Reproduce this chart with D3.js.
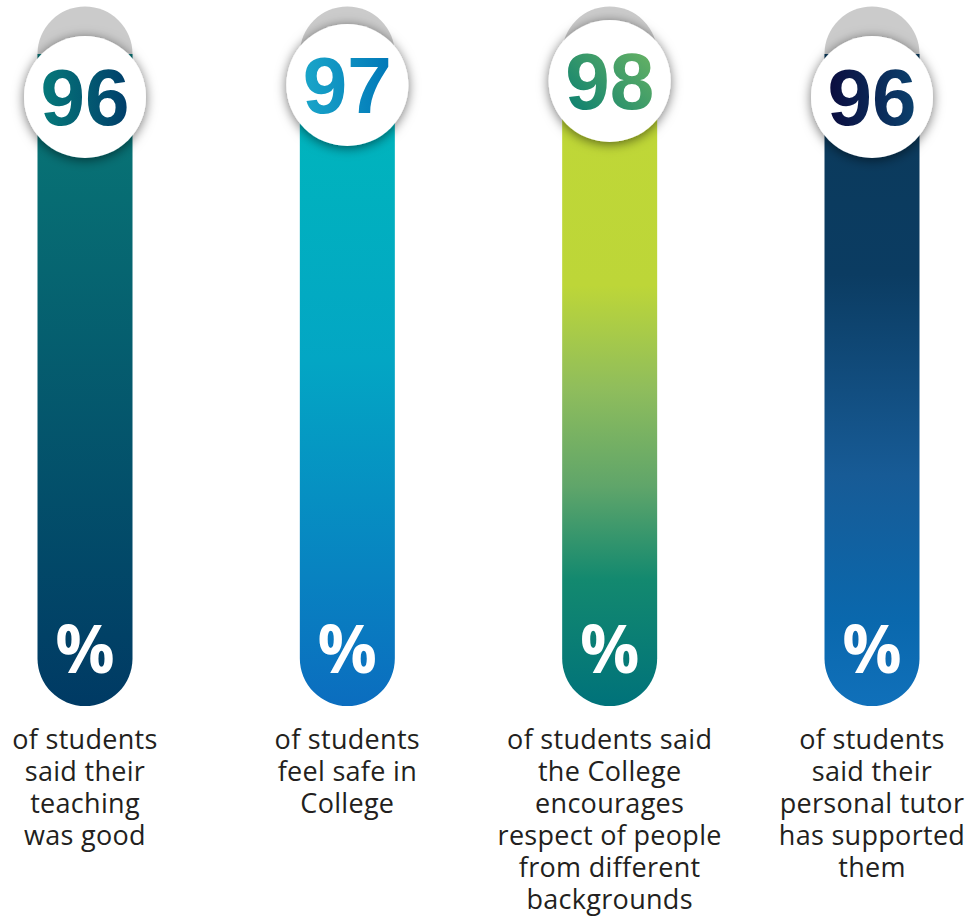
<!DOCTYPE html>
<html>
<head>
<meta charset="utf-8">
<script src="https://cdn.jsdelivr.net/npm/d3@7"></script>
<style>
  body { margin: 0; background: #ffffff; }
  svg { display: block; }
</style>
</head>
<body>
<div id="vis"></div>
<script>
const FRAME_WIDTH = 971;
const FRAME_HEIGHT = 917;

// data
const categories = ["teaching", "safe", "respect", "tutor"];
const values = [96, 97, 98, 96];
const labels = [
    ["of students", "said their", "teaching", "was good"],
    ["of students", "feel safe in", "College"],
    ["of students said", "the College", "encourages", "respect of people", "from different", "backgrounds"],
    ["of students", "said their", "personal tutor", "has supported", "them"]
];

// colours for bars (top -> bottom) and numbers
const barStops = [
    [[0, "#087375"], [1, "#003a64"]],
    [[0, "#00b4bd"], [0.4, "#03a6c4"], [1, "#0b6dbf"]],
    [[0, "#bfd737"], [0.27, "#bdd638"], [0.45, "#8fbd5c"], [0.62, "#5fa56a"], [0.78, "#13896f"], [1, "#00727a"]],
    [[0, "#0b3a5c"], [0.25, "#0b3c62"], [0.6, "#175b96"], [0.85, "#0a68ad"], [1, "#1070ba"]]
];
const numStops = [
    [["0%", "#067a7a"], ["100%", "#003d6a"]],
    [["0%", "#1aa6c9"], ["100%", "#0077b8"]],
    [["0%", "#007a72"], ["100%", "#72b862"]],
    [["0%", "#0b0c3e"], ["100%", "#0b416d"]]
];

const BAR_WIDTH = 95;
const BAR_TOP = 54;
const BAR_BOTTOM = 706;

const svg = d3.select("#vis")
    .append("svg")
    .attr("width", FRAME_WIDTH)
    .attr("height", FRAME_HEIGHT);

const defs = svg.append("defs");

const shadow = defs.append("filter")
    .attr("id", "shadow")
    .attr("x", "-40%").attr("y", "-40%")
    .attr("width", "180%").attr("height", "180%");
shadow.append("feDropShadow")
    .attr("dx", 0).attr("dy", 2)
    .attr("stdDeviation", 6)
    .attr("flood-color", "#000")
    .attr("flood-opacity", 0.55);

barStops.forEach((stops, i) => {
    const g = defs.append("linearGradient")
        .attr("id", "bar" + i)
        .attr("gradientUnits", "userSpaceOnUse")
        .attr("x1", 0).attr("x2", 0)
        .attr("y1", 130).attr("y2", BAR_BOTTOM);
    stops.forEach(s => g.append("stop").attr("offset", s[0]).attr("stop-color", s[1]));
});

numStops.forEach((stops, i) => {
    const g = defs.append("linearGradient").attr("id", "num" + i);
    if (i == 2) {
        g.attr("x1", 0).attr("y1", 1).attr("x2", 1).attr("y2", 0);
    }
    stops.forEach(s => g.append("stop").attr("offset", s[0]).attr("stop-color", s[1]));
});

// scales
const X_SCALE = d3.scalePoint()
    .domain(categories)
    .range([85, 872]);

// circle centre sits higher for higher values
const Y_SCALE = d3.scaleLinear()
    .domain([96, 97, 98])
    .range([97, 85, 81]);

const data = categories.map((c, i) => ({cat: c, value: values[i], lines: labels[i], idx: i}));

const cols = svg.selectAll(".col")
    .data(data)
    .enter()
    .append("g")
    .attr("class", "col");

// grey cap behind
cols.append("circle")
    .attr("cx", d => X_SCALE(d.cat))
    .attr("cy", BAR_TOP)
    .attr("r", BAR_WIDTH / 2)
    .attr("fill", "#cbcbcb");

// bar with rounded bottom
cols.append("path")
    .attr("d", d => {
        const cx = X_SCALE(d.cat);
        const r = BAR_WIDTH / 2;
        const p = d3.path();
        p.moveTo(cx - r, BAR_TOP);
        p.lineTo(cx + r, BAR_TOP);
        p.lineTo(cx + r, BAR_BOTTOM - r);
        p.arc(cx, BAR_BOTTOM - r, r, 0, Math.PI, false);
        p.closePath();
        return p.toString();
    })
    .attr("fill", d => "url(#bar" + d.idx + ")");

// white circle
cols.append("circle")
    .attr("cx", d => X_SCALE(d.cat))
    .attr("cy", d => Y_SCALE(d.value))
    .attr("r", 61)
    .attr("fill", "#ffffff")
    .attr("filter", "url(#shadow)");

// number
cols.append("text")
    .attr("x", d => X_SCALE(d.cat))
    .attr("y", d => Y_SCALE(d.value) + 28)
    .attr("text-anchor", "middle")
    .style("font-family", "'Liberation Sans', Arial, sans-serif")
    .style("font-weight", "bold")
    .style("font-size", "80px")
    .attr("fill", d => "url(#num" + d.idx + ")")
    .text(d => d.value);

// percent sign
cols.append("text")
    .attr("x", d => X_SCALE(d.cat))
    .attr("y", 673)
    .attr("text-anchor", "middle")
    .style("font-family", "'Open Sans', sans-serif")
    .style("font-weight", "bold")
    .style("font-size", "66px")
    .attr("fill", "#ffffff")
    .text("%");

// labels
cols.append("text")
    .attr("text-anchor", "middle")
    .style("font-family", "'Open Sans', sans-serif")
    .style("font-size", "27px")
    .style("letter-spacing", "0.3px")
    .attr("fill", "#231f20")
    .each(function (d) {
        const t = d3.select(this);
        d.lines.forEach((line, j) => {
            t.append("tspan")
                .attr("x", X_SCALE(d.cat))
                .attr("y", 749 + j * 32)
                .text(line);
        });
    });
</script>
</body>
</html>
